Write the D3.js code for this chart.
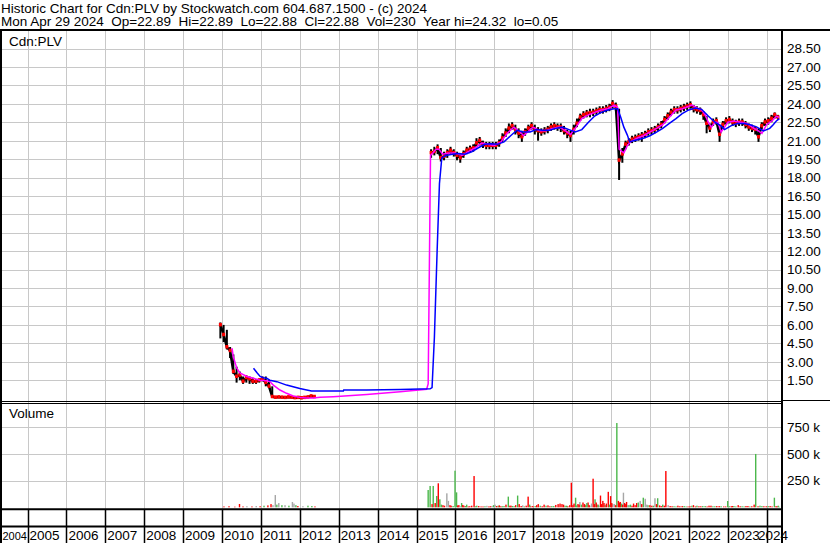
<!DOCTYPE html>
<html>
<head>
<meta charset="utf-8">
<script src="https://cdn.jsdelivr.net/npm/d3@7"></script>
<style>
body { margin: 0; background: #fff; }
svg { display: block; }
text { font-family: 'Liberation Sans', Arial, sans-serif; font-size: 13.5px; fill: #000; }
</style>
</head>
<body>
<svg width="830" height="543"></svg>
<script>
//Stockwatch style historic chart for Cdn:PLV
const SVG_WIDTH = 830;
const SVG_HEIGHT = 543;

//header lines
var title1 = 'Historic Chart for Cdn:PLV by Stockwatch.com 604.687.1500 - (c) 2024';
var title2 = 'Mon Apr 29 2024  Op=22.89  Hi=22.89  Lo=22.88  Cl=22.88  Vol=230  Year hi=24.32  lo=0.05';

//tick labels
var yearLabels = ['2004','2005','2006','2007','2008','2009','2010','2011','2012','2013','2014',
                  '2015','2016','2017','2018','2019','2020','2021','2022','2023','2024'];
var priceTicks = [1.5, 3, 4.5, 6, 7.5, 9, 10.5, 12, 13.5, 15, 16.5, 18, 19.5, 21, 22.5, 24, 25.5, 27, 28.5];
var volTicks = [250, 500, 750]; //in thousands

//monthly price bars, first trading period (2009-2012)
var monthsA = ['2009-12','2010-01','2010-02','2010-03','2010-04','2010-05','2010-06','2010-07','2010-08',
               '2010-09','2010-10','2010-11','2010-12','2011-01','2011-02','2011-03','2011-04','2011-05',
               '2011-06','2011-07','2011-08','2011-09','2011-10','2011-11','2011-12','2012-01','2012-02',
               '2012-03','2012-04','2012-05'];
var closeA = [6.0, 5.2, 4.2, 3.9, 2.2, 1.8, 1.9, 1.4, 1.7, 1.6, 1.4, 1.4, 1.5, 1.6, 1.3, 1.0, 0.15, 0.1,
              0.12, 0.1, 0.08, 0.12, 0.1, 0.06, 0.08, 0.05, 0.08, 0.12, 0.2, 0.15];
var highA = [6.2, 6.0, 5.6, 4.2, 3.6, 2.6, 2.2, 1.8, 1.9, 1.8, 1.7, 1.6, 1.6, 1.8, 1.8, 1.5, 1.0, 0.2,
             0.2, 0.15, 0.15, 0.2, 0.15, 0.12, 0.12, 0.1, 0.12, 0.2, 0.25, 0.2];
var lowA = [4.9, 4.6, 4.0, 3.3, 2.0, 1.3, 1.5, 1.2, 1.3, 1.2, 1.2, 1.2, 1.3, 1.4, 1.0, 0.9, 0.1, 0.05,
            0.05, 0.05, 0.03, 0.05, 0.05, 0.03, 0.03, 0.02, 0.03, 0.05, 0.1, 0.08];

//monthly price bars, second trading period (2015-2024)
var monthsB = ['2015-05','2015-06','2015-07','2015-08','2015-09','2015-10','2015-11','2015-12',
  '2016-01','2016-02','2016-03','2016-04','2016-05','2016-06','2016-07','2016-08','2016-09','2016-10','2016-11','2016-12',
  '2017-01','2017-02','2017-03','2017-04','2017-05','2017-06','2017-07','2017-08','2017-09','2017-10','2017-11','2017-12',
  '2018-01','2018-02','2018-03','2018-04','2018-05','2018-06','2018-07','2018-08','2018-09','2018-10','2018-11','2018-12',
  '2019-01','2019-02','2019-03','2019-04','2019-05','2019-06','2019-07','2019-08','2019-09','2019-10','2019-11','2019-12',
  '2020-01','2020-02','2020-03','2020-04','2020-05','2020-06','2020-07','2020-08','2020-09','2020-10','2020-11','2020-12',
  '2021-01','2021-02','2021-03','2021-04','2021-05','2021-06','2021-07','2021-08','2021-09','2021-10','2021-11','2021-12',
  '2022-01','2022-02','2022-03','2022-04','2022-05','2022-06','2022-07','2022-08','2022-09','2022-10','2022-11','2022-12',
  '2023-01','2023-02','2023-03','2023-04','2023-05','2023-06','2023-07','2023-08','2023-09','2023-10','2023-11','2023-12',
  '2024-01','2024-02','2024-03','2024-04'];
var closeB = [20.0, 20.1, 20.4, 19.6, 19.7, 20.0, 20.2, 20.0,
  19.8, 19.6, 19.9, 20.2, 20.3, 20.4, 20.8, 21.0, 20.7, 20.6, 20.6, 20.6,
  20.6, 20.8, 21.2, 21.6, 22.0, 22.2, 21.9, 21.6, 21.3, 21.7, 22.0, 22.2,
  21.9, 21.8, 21.7, 21.8, 21.9, 22.1, 22.2, 22.1, 22.1, 21.8, 21.6, 21.4,
  21.9, 22.4, 22.9, 23.1, 23.2, 23.25, 23.3, 23.4, 23.5, 23.5, 23.6, 23.7,
  24.0, 23.8, 19.4, 19.9, 20.7, 20.9, 21.1, 21.2, 21.3, 21.4, 21.5, 21.7,
  21.8, 21.9, 22.1, 22.3, 22.7, 23.0, 23.3, 23.5, 23.5, 23.6, 23.7, 23.8,
  23.9, 23.6, 23.5, 23.45, 23.1, 22.4, 22.0, 22.5, 22.6, 21.5, 22.3, 22.6,
  22.7, 22.5, 22.4, 22.5, 22.5, 22.3, 22.1, 22.0, 21.9, 21.3, 22.2, 22.5,
  22.6, 22.8, 23.1, 22.9];
var highB = [20.3, 20.5, 20.7, 20.4, 20.1, 20.3, 20.5, 20.3,
  20.1, 20.0, 20.2, 20.5, 20.6, 20.7, 21.2, 21.3, 21.0, 20.9, 20.9, 20.9,
  20.9, 21.1, 21.6, 22.0, 22.4, 22.5, 22.3, 22.0, 21.8, 22.0, 22.3, 22.5,
  22.3, 22.1, 22.0, 22.1, 22.2, 22.4, 22.5, 22.4, 22.4, 22.2, 21.9, 21.8,
  22.3, 22.8, 23.2, 23.4, 23.5, 23.6, 23.6, 23.7, 23.8, 23.8, 23.9, 24.0,
  24.3, 24.1, 23.6, 20.4, 21.0, 21.2, 21.4, 21.5, 21.6, 21.7, 21.8, 22.0,
  22.1, 22.2, 22.4, 22.6, 23.0, 23.3, 23.6, 23.8, 23.8, 23.9, 24.0, 24.1,
  24.2, 23.9, 23.8, 23.7, 23.4, 23.0, 22.4, 22.8, 22.9, 22.3, 22.6, 22.9,
  23.0, 22.8, 22.7, 22.8, 22.8, 22.6, 22.4, 22.3, 22.2, 22.0, 22.5, 22.8,
  22.9, 23.1, 23.3, 23.1];
var lowB = [19.6, 19.8, 19.9, 19.3, 19.4, 19.6, 19.9, 19.7,
  19.4, 19.2, 19.6, 19.9, 20.0, 20.1, 20.5, 20.6, 20.4, 20.3, 20.3, 20.3,
  20.3, 20.5, 20.9, 21.3, 21.6, 21.9, 21.5, 21.2, 20.9, 21.4, 21.7, 21.9,
  21.5, 21.0, 21.4, 21.5, 21.6, 21.8, 21.9, 21.8, 21.7, 21.5, 21.2, 20.9,
  21.5, 22.1, 22.6, 22.8, 22.9, 22.9, 23.0, 23.1, 23.2, 23.2, 23.3, 23.4,
  23.6, 23.4, 17.8, 19.2, 20.3, 20.6, 20.8, 20.9, 21.0, 20.9, 21.2, 21.4,
  21.5, 21.6, 21.8, 22.0, 22.4, 22.7, 23.0, 23.2, 23.2, 23.3, 23.4, 23.5,
  23.6, 23.3, 23.2, 23.1, 22.7, 21.6, 21.7, 22.2, 22.3, 20.9, 22.0, 22.3,
  22.4, 22.2, 22.1, 22.2, 22.2, 22.0, 21.8, 21.7, 21.5, 20.9, 21.9, 22.2,
  22.3, 22.5, 22.8, 22.7];

//short moving average (magenta): decimal year / price
var magentaT = [2010.26, 2010.29, 2010.38, 2010.46, 2010.64, 2010.81, 2010.98, 2011.15, 2011.23, 2011.32,
  2011.49, 2011.66, 2011.83, 2012.00, 2012.17, 2012.35, 2012.52, 2012.86, 2013.72, 2014.58,
  2015.26, 2015.30, 2015.36, 2015.42, 2015.50, 2015.58, 2015.67, 2015.83, 2016.00, 2016.17,
  2016.33, 2016.50, 2016.67, 2016.83, 2017.00, 2017.17, 2017.33, 2017.50, 2017.67, 2017.75,
  2017.92, 2018.00, 2018.17, 2018.33, 2018.50, 2018.67, 2018.83, 2018.96, 2019.08, 2019.25,
  2019.42, 2019.58, 2019.75, 2019.92, 2020.08, 2020.17, 2020.21, 2020.25, 2020.33, 2020.42,
  2020.50, 2020.67, 2020.83, 2021.00, 2021.17, 2021.33, 2021.50, 2021.67, 2021.83, 2022.00,
  2022.08, 2022.25, 2022.33, 2022.42, 2022.50, 2022.58, 2022.67, 2022.75, 2022.83, 2022.92,
  2023.00, 2023.17, 2023.33, 2023.50, 2023.67, 2023.79, 2023.88, 2024.00, 2024.17, 2024.25, 2024.32];
var magentaV = [4.1, 3.4, 2.47, 2.1, 1.8, 1.65, 1.5, 1.46, 1.38, 1.1,
  0.7, 0.43, 0.21, 0.1, 0.05, 0.04, 0.1, 0.16, 0.33, 0.55,
  0.76, 1.2, 19.8, 20.0, 20.3, 20.3, 19.9, 20.0, 20.0, 19.8,
  20.1, 20.4, 20.8, 20.7, 20.6, 20.9, 21.6, 22.1, 21.7, 21.4,
  21.9, 22.1, 21.8, 21.8, 22.0, 22.1, 21.8, 21.5, 22.0, 22.8,
  23.1, 23.3, 23.5, 23.6, 23.9, 23.7, 20.3, 20.2, 20.0, 20.6,
  20.9, 21.2, 21.4, 21.7, 22.0, 22.3, 22.9, 23.5, 23.6, 23.8,
  23.9, 23.6, 23.5, 23.1, 22.5, 22.1, 22.5, 22.5, 21.7, 22.1,
  22.5, 22.6, 22.5, 22.4, 22.0, 21.8, 21.6, 22.3, 22.7, 23.0, 22.9];

//long moving average (blue)
var blueT = [2010.81, 2010.90, 2010.98, 2011.06, 2011.15, 2011.23, 2011.41, 2011.66, 2012.00, 2012.30,
  2013.12, 2013.13, 2013.72, 2014.58, 2015.35, 2015.40, 2015.46, 2015.53, 2015.59, 2015.65,
  2015.75, 2015.92, 2016.08, 2016.25, 2016.42, 2016.58, 2016.75, 2016.92, 2017.08, 2017.25,
  2017.42, 2017.58, 2017.75, 2017.92, 2018.08, 2018.25, 2018.42, 2018.58, 2018.75, 2018.92,
  2019.08, 2019.25, 2019.42, 2019.58, 2019.75, 2019.92, 2020.08, 2020.17, 2020.25, 2020.33,
  2020.42, 2020.48, 2020.58, 2020.83, 2021.00, 2021.17, 2021.33, 2021.50, 2021.67, 2021.83,
  2022.00, 2022.17, 2022.33, 2022.50, 2022.67, 2022.83, 2022.92, 2023.08, 2023.25, 2023.42,
  2023.58, 2023.75, 2023.92, 2024.08, 2024.17, 2024.25, 2024.33];
var blueV = [2.47, 2.1, 1.8, 1.7, 1.65, 1.5, 1.38, 1.1, 0.83, 0.62,
  0.62, 0.7, 0.71, 0.74, 0.8, 0.9, 5.0, 12.0, 17.5, 19.6,
  19.8, 19.9, 19.95, 19.9, 20.1, 20.4, 20.7, 20.75, 20.7, 20.9,
  21.4, 21.85, 21.7, 21.7, 21.9, 21.85, 21.85, 22.0, 22.1, 21.9,
  21.7, 21.9, 22.5, 23.0, 23.3, 23.5, 23.6, 23.6, 22.9, 22.1,
  21.45, 20.9, 21.0, 21.2, 21.4, 21.7, 22.0, 22.4, 22.8, 23.2,
  23.5, 23.65, 23.55, 23.0, 22.5, 22.2, 21.9, 22.2, 22.4, 22.4,
  22.3, 22.1, 21.8, 22.0, 22.3, 22.6, 22.8];

//volume bars: decimal year, thousands of shares, u=up (green) d=down (red) n=unchanged (grey)
var volT = [2010.05, 2010.18, 2010.33, 2010.45, 2010.54, 2010.64, 2010.77, 2010.88, 2010.98, 2011.08,
  2011.18, 2011.26, 2011.31, 2011.37, 2011.41, 2011.46, 2011.54, 2011.62, 2011.72, 2011.81,
  2011.85, 2011.90, 2011.95, 2012.08, 2012.21, 2012.31, 2012.39,
  2015.30, 2015.35, 2015.43, 2015.48, 2015.52, 2015.56, 2015.60, 2015.68, 2015.78, 2015.82,
  2015.89, 2015.99, 2016.03, 2016.09, 2016.16, 2016.22, 2016.29, 2016.37, 2016.48, 2016.55,
  2016.66, 2016.76, 2016.86, 2016.94, 2017.02, 2017.10, 2017.17, 2017.25, 2017.36, 2017.43,
  2017.51, 2017.60, 2017.69, 2017.77, 2017.87, 2017.94, 2018.05, 2018.13, 2018.23, 2018.33,
  2018.43, 2018.53, 2018.64, 2018.69, 2018.74, 2018.82, 2018.89, 2018.98, 2019.02, 2019.09,
  2019.15, 2019.20, 2019.24, 2019.28, 2019.35, 2019.41, 2019.46, 2019.54, 2019.59, 2019.64,
  2019.69, 2019.73, 2019.79, 2019.85, 2019.93, 2019.99, 2020.05, 2020.15, 2020.19, 2020.24,
  2020.32, 2020.35, 2020.40, 2020.46, 2020.54, 2020.66, 2020.75, 2020.83, 2020.88, 2020.95,
  2021.05, 2021.13, 2021.20, 2021.29, 2021.41, 2021.47, 2021.57, 2021.67, 2021.77, 2021.88,
  2021.98, 2022.12, 2022.21, 2022.31, 2022.42, 2022.52, 2022.62, 2022.72, 2022.83, 2022.90,
  2023.00, 2023.09, 2023.16, 2023.27, 2023.37, 2023.47, 2023.57, 2023.68, 2023.72, 2023.78,
  2023.88, 2023.99, 2024.09, 2024.20, 2024.27, 2024.33];
var volK = [8, 10, 6, 31, 8, 10, 8, 12, 10, 15,
  18, 30, 20, 115, 25, 40, 20, 20, 15, 50,
  35, 20, 12, 10, 15, 12, 8,
  162, 200, 200, 40, 106, 225, 75, 20, 131, 60,
  15, 343, 140, 20, 40, 15, 25, 10, 293, 15,
  8, 10, 8, 12, 25, 15, 10, 12, 100, 15,
  10, 110, 12, 8, 100, 10, 12, 30, 10, 15,
  10, 12, 30, 35, 30, 15, 10, 231, 20, 90,
  30, 50, 25, 45, 20, 45, 15, 268, 75, 25,
  15, 110, 60, 20, 145, 105, 30, 790, 60, 50,
  137, 40, 50, 20, 15, 40, 60, 90, 80, 20,
  15, 85, 85, 12, 340, 20, 10, 8, 10, 12,
  8, 20, 15, 10, 12, 15, 10, 12, 10, 8,
  59, 10, 12, 20, 10, 12, 8, 25, 500, 10,
  12, 10, 12, 90, 10, 5];
var volDir = ['d','d','d','d','d','n','d','n','d','u',
  'd','d','n','n','u','n','u','n','u','n',
  'n','u','d','n','u','u','d',
  'u','u','u','d','u','d','u','d','n','n',
  'd','u','u','d','u','d','u','d','d','u',
  'd','u','d','n','n','u','d','u','u','d',
  'u','u','d','u','d','d','u','d','d','u',
  'd','u','d','d','d','u','d','d','d','u',
  'd','n','u','d','u','d','n','d','u','d',
  'n','d','d','u','d','d','n','u','d','d',
  'n','d','d','u','d','d','n','u','n','u',
  'd','n','u','d','d','n','d','u','d','u',
  'd','d','u','d','u','d','u','d','u','d',
  'u','d','u','d','u','d','u','d','u','d',
  'u','d','d','u','d','u'];

//the many small daily volumes along the floor of the volume panel
var smallT = [2015.40, 2015.64, 2015.72, 2015.86, 2015.94, 2016.06, 2016.13, 2016.19, 2016.26, 2016.33,
  2016.42, 2016.51, 2016.60, 2016.71, 2016.81, 2016.90, 2016.98, 2017.06, 2017.13, 2017.21,
  2017.30, 2017.40, 2017.47, 2017.55, 2017.64, 2017.73, 2017.82, 2017.91, 2017.99, 2018.09,
  2018.18, 2018.28, 2018.38, 2018.48, 2018.58, 2018.78, 2018.86, 2018.94, 2019.05, 2019.12,
  2019.18, 2019.32, 2019.38, 2019.44, 2019.50, 2019.57, 2019.62, 2019.67, 2019.76, 2019.82,
  2019.88, 2019.96, 2020.02, 2020.09, 2020.12, 2020.22, 2020.27, 2020.30, 2020.38, 2020.43,
  2020.50, 2020.58, 2020.62, 2020.70, 2020.79, 2020.92, 2021.00, 2021.09, 2021.17, 2021.25,
  2021.33, 2021.37, 2021.52, 2021.62, 2021.72, 2021.83, 2021.93, 2022.03, 2022.08, 2022.17,
  2022.26, 2022.36, 2022.47, 2022.57, 2022.67, 2022.78, 2022.95, 2023.04, 2023.12, 2023.21,
  2023.32, 2023.42, 2023.52, 2023.62, 2023.83, 2023.93, 2024.04, 2024.14, 2024.24, 2024.30];
var smallK = [30, 25, 15, 20, 12, 18, 10, 22, 12, 8,
  15, 10, 12, 8, 14, 10, 20, 12, 18, 10,
  25, 15, 12, 20, 30, 18, 15, 25, 12, 20,
  15, 25, 18, 12, 22, 25, 15, 20, 35, 18,
  25, 30, 40, 20, 35, 30, 45, 25, 30, 40,
  35, 25, 40, 30, 20, 45, 35, 25, 30, 20,
  25, 35, 20, 45, 30, 25, 20, 15, 30, 18,
  25, 15, 12, 10, 15, 12, 8, 10, 15, 8,
  10, 12, 8, 15, 10, 12, 8, 10, 12, 8,
  10, 8, 12, 10, 15, 10, 12, 8, 10, 15];
var smallDir = ['d','u','d','d','u','d','n','d','u','d',
  'd','u','d','d','n','d','u','d','d','u',
  'd','d','u','d','d','n','d','u','d','d',
  'u','d','d','u','d','d','u','d','d','u',
  'd','d','u','d','n','d','d','u','d','d',
  'd','u','d','n','d','d','u','d','d','n',
  'u','d','d','u','d','n','d','u','d','d',
  'u','d','d','u','d','d','u','d','u','d',
  'd','u','d','d','u','d','d','u','d','u',
  'd','u','d','d','u','d','u','d','d','u'];

var volColors = {'u': '#4cb84c', 'd': '#ff0000', 'n': '#a6a6a6'};

//scales: x in decimal years, price and volume panels share it
var x = d3.scaleLinear().domain([2004, 2024]).range([-11.4, 766.6]);
var yPrice = d3.scaleLinear().domain([0, 30]).range([398.6, 30.1]);
var yVol = d3.scaleLinear().domain([0, 1000]).range([507.3, 400.6]);

//turn 'YYYY-MM' into the middle of the month as a decimal year
function monthTime(s) {
    var p = s.split('-');
    return +p[0] + (+p[1] - 0.5) / 12;
}

function makeBars(months, lo, hi, cl) {
    return months.map(function(m, i) {
        return {t: monthTime(m), lo: lo[i], hi: hi[i], cl: cl[i]};
    });
}
var seriesA = makeBars(monthsA, lowA, highA, closeA);
var seriesB = makeBars(monthsB, lowB, highB, closeB);

var volData = volT.map(function(t, i) { return {t: t, k: volK[i], dir: volDir[i]}; })
    .concat(smallT.map(function(t, i) { return {t: t, k: smallK[i], dir: smallDir[i]}; }));

var svg = d3.select('svg');
svg.append('rect').attr('width', SVG_WIDTH).attr('height', SVG_HEIGHT).attr('fill', '#fff');

var defs = svg.append('defs');
defs.append('clipPath').attr('id', 'clipPrice')
    .append('rect').attr('x', 2).attr('y', 31).attr('width', 779).attr('height', 369);
defs.append('clipPath').attr('id', 'clipVol')
    .append('rect').attr('x', 2).attr('y', 405).attr('width', 779).attr('height', 103);

//header text
svg.append('text').attr('x', 1).attr('y', 12.5).attr('xml:space', 'preserve').text(title1);
svg.append('text').attr('x', 1).attr('y', 26).attr('xml:space', 'preserve').text(title2);

//grid lines
var grid = svg.append('g').attr('stroke', '#c8c8c8').attr('stroke-width', 1);
grid.selectAll('.hp').data(priceTicks).enter().append('line')
    .attr('x1', 2).attr('x2', 781)
    .attr('y1', function(d) { return Math.round(yPrice(d)) + 0.5; })
    .attr('y2', function(d) { return Math.round(yPrice(d)) + 0.5; });
grid.selectAll('.hv').data(volTicks).enter().append('line')
    .attr('x1', 2).attr('x2', 781)
    .attr('y1', function(d) { return Math.round(yVol(d)) + 0.5; })
    .attr('y2', function(d) { return Math.round(yVol(d)) + 0.5; });
grid.selectAll('.vg').data(yearLabels.slice(1)).enter().append('line')
    .attr('x1', function(d) { return Math.round(x(+d)) + 0.5; })
    .attr('x2', function(d) { return Math.round(x(+d)) + 0.5; })
    .attr('y1', 31).attr('y2', 509);

//price panel
var pricePanel = svg.append('g').attr('clip-path', 'url(#clipPrice)');
var closeLine = d3.line()
    .x(function(d) { return x(d.t); })
    .y(function(d) { return yPrice(d.cl); });

[seriesA, seriesB].forEach(function(series) {
    pricePanel.append('path')
        .attr('d', closeLine(series))
        .attr('fill', 'none')
        .attr('stroke', '#000')
        .attr('stroke-width', 2.5);
    pricePanel.selectAll(null).data(series).enter().append('line')
        .attr('x1', function(d) { return x(d.t); })
        .attr('x2', function(d) { return x(d.t); })
        .attr('y1', function(d) { return yPrice(d.hi); })
        .attr('y2', function(d) { return yPrice(d.lo); })
        .attr('stroke', '#000')
        .attr('stroke-width', 2);
    pricePanel.selectAll(null).data(series).enter().append('rect')
        .attr('x', function(d) { return x(d.t) - 1.5; })
        .attr('y', function(d) { return yPrice(d.cl) - 2; })
        .attr('width', 3).attr('height', 3.5)
        .attr('fill', '#ff0000');
});

//moving averages
function maLine(ts, vs) {
    return d3.line()
        .x(function(d) { return x(d); })
        .y(function(d, i) { return yPrice(vs[i]); })(ts);
}
pricePanel.append('path')
    .attr('d', maLine(magentaT, magentaV))
    .attr('fill', 'none').attr('stroke', '#ff00ff').attr('stroke-width', 1.5);
pricePanel.append('path')
    .attr('d', maLine(blueT, blueV))
    .attr('fill', 'none').attr('stroke', '#0000ff').attr('stroke-width', 1.5);

//volume panel
var volPanel = svg.append('g').attr('clip-path', 'url(#clipVol)');
volPanel.selectAll('rect').data(volData).enter().append('rect')
    .attr('x', function(d) { return x(d.t) - 0.7; })
    .attr('y', function(d) { return yVol(d.k); })
    .attr('width', 1.4)
    .attr('height', function(d) { return yVol(0) - yVol(d.k); })
    .attr('fill', function(d) { return volColors[d.dir]; });

//panel labels
svg.append('text').attr('x', 9).attr('y', 45.5).text('Cdn:PLV');
svg.append('text').attr('x', 9).attr('y', 417.5).text('Volume');

//frame lines
var frame = svg.append('g').attr('stroke', '#000');
frame.append('line').attr('x1', 0).attr('x2', SVG_WIDTH).attr('y1', 30).attr('y2', 30).attr('stroke-width', 2);
frame.append('line').attr('x1', 1).attr('x2', 1).attr('y1', 30).attr('y2', SVG_HEIGHT).attr('stroke-width', 2);
frame.append('line').attr('x1', 782).attr('x2', 782).attr('y1', 30).attr('y2', SVG_HEIGHT).attr('stroke-width', 2);
frame.append('line').attr('x1', 2).attr('x2', 782).attr('y1', 401.5).attr('y2', 401.5);
frame.append('line').attr('x1', 2).attr('x2', 782).attr('y1', 403.5).attr('y2', 403.5);
frame.append('line').attr('x1', 782).attr('x2', SVG_WIDTH).attr('y1', 400.5).attr('y2', 400.5);
frame.append('line').attr('x1', 0).attr('x2', 782).attr('y1', 509.3).attr('y2', 509.3).attr('stroke-width', 2);
frame.append('line').attr('x1', 0).attr('x2', 782).attr('y1', 526.5).attr('y2', 526.5).attr('stroke-width', 2);
frame.selectAll('.sep').data(yearLabels.slice(1)).enter().append('line')
    .attr('x1', function(d) { return Math.round(x(+d)) + 0.5; })
    .attr('x2', function(d) { return Math.round(x(+d)) + 0.5; })
    .attr('y1', 509).attr('y2', SVG_HEIGHT)
    .attr('stroke-width', 1.5);

//right axis labels
svg.selectAll('.pl').data(priceTicks).enter().append('text')
    .attr('x', 787)
    .attr('y', function(d) { return yPrice(d); })
    .attr('dy', '0.36em')
    .text(function(d) { return d.toFixed(2); });
svg.selectAll('.vl').data(volTicks).enter().append('text')
    .attr('x', 787)
    .attr('y', function(d) { return yVol(d); })
    .attr('dy', '0.36em')
    .text(function(d) { return d + ' k'; });

//year labels; the first one is shrunk into its cell, the last one pushed against the frame
svg.selectAll('.yl').data(yearLabels).enter().append('text')
    .attr('x', function(d, i) {
        if (i == 0) return 2.5;
        if (i == yearLabels.length - 1) return 788;
        return x(+d) + 2;
    })
    .attr('text-anchor', function(d, i) {
        return (i == yearLabels.length - 1) ? 'end' : 'start';
    })
    .attr('y', 540)
    .style('font-size', function(d, i) { return i == 0 ? '11px' : null; })
    .text(function(d) { return d; });
</script>
</body>
</html>
